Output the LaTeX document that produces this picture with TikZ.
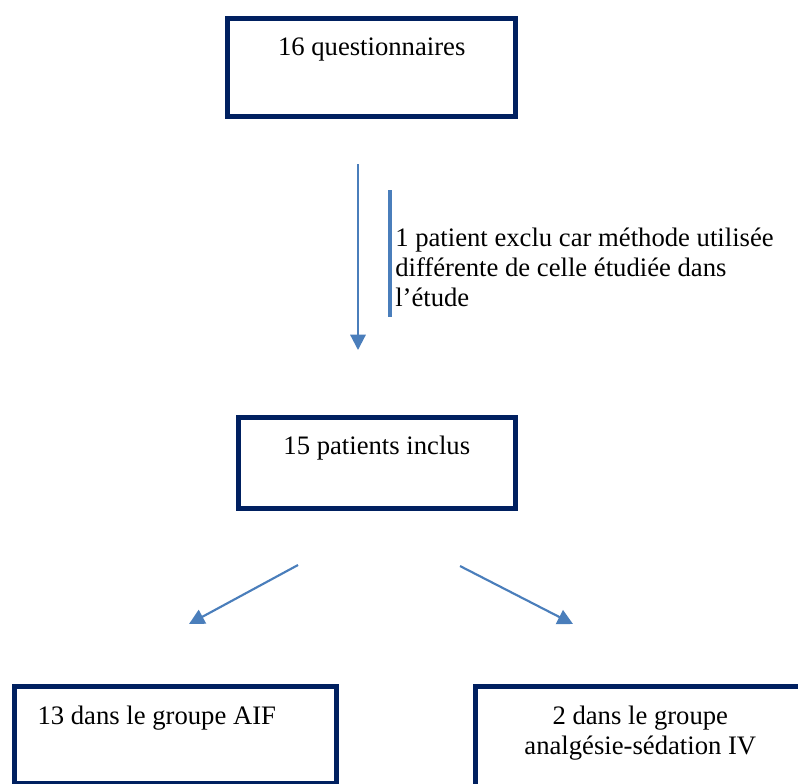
\documentclass[tikz,border=0pt]{standalone}
\usepackage{fontspec}
\setmainfont{Liberation Serif}
\usetikzlibrary{arrows.meta}
\definecolor{boxnavy}{RGB}{0,32,96}
\definecolor{arrowblue}{RGB}{74,126,187}

\begin{document}
\begin{tikzpicture}[x=0.75pt, y=-0.75pt,
	every node/.style={font=\fontsize{20}{22.5}\selectfont},
	box/.style={draw=boxnavy, line width=3.75pt, rectangle, inner sep=0pt, anchor=north west},
	arrow/.style={arrowblue, line width=1.6pt, -{Triangle[length=11.5pt,width=11.5pt]}},
	bar/.style={arrowblue, line width=3pt}]
 \clip (0,0) rectangle (798,783);
 \node[box, minimum width=216pt, text height=28.1pt, text depth=45.2pt] (quest) at (225.2,15.8) {16 questionnaires};
 \node[box, minimum width=207.75pt, text height=27.7pt, text depth=40.6pt] (inclus) at (235.8,414.8) {15 patients inclus};
 \node[box, text width=207pt, align=flush left, inner xsep=17.4pt, text height=28.6pt, text depth=44.3pt] (aif) at (11.8,683.5) {13 dans le groupe AIF};
 \node[box, minimum width=248pt, text width=200pt, align=flush center, text height=28.6pt, text depth=58.7pt] (ivgrp) at (472.5,683.5) {2 dans le groupe\\analgésie-sédation IV};
 % exclusion
 \node[anchor=base west, align=flush left, inner sep=0pt] (excl) at (395,306) {1 patient exclu car méthode utilisée\\différente de celle étudiée dans\\l’étude};
 \coordinate (bartop) at (390,190);
 \coordinate (barbot) at (390,317);
 \draw[bar] (bartop) -- (barbot);
 % arrows
 \coordinate (down1) at (358,164);
 \coordinate (down2) at (358,350);
 \coordinate (left1) at (298,565);
 \coordinate (left2) at (189,624);
 \coordinate (right1) at (460,566);
 \coordinate (right2) at (573,624);
 \draw[arrow] (down1) -- (down2);
 \draw[arrow] (left1) -- (left2);
 \draw[arrow] (right1) -- (right2);
\end{tikzpicture}
\end{document}
